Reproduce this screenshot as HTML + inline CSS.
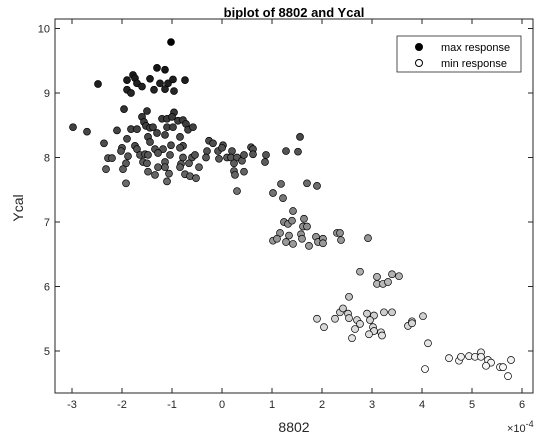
<!DOCTYPE html>
<html><head><meta charset="utf-8"><style>
html,body{margin:0;padding:0;background:#fff;}
svg{display:block;font-family:"Liberation Sans",sans-serif;}
</style></head><body>
<svg id="chart" width="546" height="440" viewBox="0 0 546 440">
<rect x="0" y="0" width="546" height="440" fill="#fff"/>
<g id="points"></g>
<g id="axes"></g>
<text x="294" y="17" text-anchor="middle" font-size="13" font-weight="bold">biplot of 8802 and Ycal</text>
<text x="294" y="432" text-anchor="middle" font-size="14" fill="#262626">8802</text>
<text transform="translate(23,208) rotate(-90)" text-anchor="middle" font-size="14" fill="#262626">Ycal</text>
<text x="507" y="432" font-size="11" fill="#262626">×10<tspan dy="-5" font-size="9">-4</tspan></text>
<g>
<rect x="397" y="36" width="124" height="36" fill="#fff" stroke="#262626" stroke-width="0.8"/>
<circle cx="419" cy="47" r="3.5" fill="#000" stroke="#000"/>
<text x="441" y="51" font-size="11">max response</text>
<circle cx="419" cy="63" r="3.5" fill="#fff" stroke="#000"/>
<text x="441" y="67" font-size="11">min response</text>
</g>
</svg>
<script>
const xVals=[-1.02,-2.48,-1.9,-1.78,-1.74,-1.7,-1.9,-1.82,-1.6,-1.3,-1.14,-1.44,-1.24,-1.36,-1.14,-1.08,-0.98,-0.96,-0.74,-1.96,
-2.98,-2.7,-2.1,-1.82,-1.7,-1.5,-1.6,-1.56,-1.52,-1.44,-1.38,-1.3,-1.48,-1.2,-1.1,-0.96,-1.0,-0.88,-1.1,-0.98,-0.78,-0.72,-0.68,-0.58,-1.14,-0.84,-1.9,-2.36,-1.44,
-1.74,-2.0,-1.7,-1.34,-1.18,-1.02,-0.78,-0.84,-2.02,-1.64,-1.54,-1.48,-1.28,-1.04,-1.88,-2.28,-2.2,-1.58,-1.5,-1.14,-0.78,-0.6,-0.54,-0.82,-0.66,-1.92,-1.98,-2.32,-1.28,-1.14,-0.84,-0.46,-1.48,-1.34,-1.06,-0.74,-0.64,-0.52,-1.92,-1.1,
-0.26,-0.18,-0.3,-0.08,0.02,0.0,-0.32,-0.06,0.1,0.2,0.18,0.3,0.24,0.4,0.44,0.24,0.44,0.26,0.58,0.62,0.62,0.88,0.86,1.28,0.3,1.18,1.02,1.22,
1.52,1.56,1.7,1.9,
1.42,1.24,1.32,1.4,1.64,1.62,1.7,1.16,1.34,1.58,1.02,1.1,1.28,1.42,1.6,1.74,1.88,1.92,2.02,2.02,2.3,2.36,2.38,2.92,
2.76,3.1,3.1,3.22,3.32,3.4,3.54,
2.54,1.9,2.04,2.26,2.36,2.42,2.52,2.54,2.7,2.76,2.66,2.6,2.9,3.04,2.96,3.02,3.04,2.94,3.18,3.2,3.24,3.4,3.72,3.8,3.8,4.02,4.12,4.06,
4.54,4.74,4.78,4.94,5.06,5.18,5.18,5.32,5.38,5.28,5.56,5.62,5.78,5.72];
const yVals=[9.79,9.14,9.2,9.28,9.23,9.15,9.05,9.0,9.1,9.39,9.36,9.22,9.15,9.05,9.06,9.15,9.21,9.03,9.2,8.75,
8.47,8.4,8.42,8.44,8.44,8.72,8.63,8.55,8.49,8.46,8.47,8.38,8.32,8.6,8.6,8.7,8.63,8.57,8.47,8.47,8.58,8.52,8.43,8.47,8.35,8.32,8.29,8.22,8.24,
8.18,8.15,8.13,8.13,8.13,8.19,8.18,8.15,8.1,8.04,8.05,8.04,8.07,8.04,8.02,7.99,7.99,7.93,7.91,7.93,8.0,8.0,8.04,7.9,7.91,7.91,7.82,7.82,7.85,7.85,7.85,7.85,7.78,7.73,7.75,7.74,7.71,7.68,7.6,7.63,
8.26,8.22,8.1,8.1,8.19,8.15,8.0,7.98,8.0,8.1,8.0,8.0,7.91,7.95,8.04,7.79,7.78,7.73,8.16,8.13,8.05,8.04,7.93,8.1,7.48,7.59,7.45,7.37,
8.09,8.32,7.6,7.56,
7.17,7.0,6.97,7.02,7.05,6.93,6.93,6.83,6.79,6.81,6.71,6.74,6.69,6.66,6.74,6.63,6.77,6.69,6.74,6.67,6.83,6.83,6.72,6.75,
6.23,6.15,6.04,6.04,6.07,6.19,6.16,
5.84,5.5,5.37,5.5,5.6,5.66,5.58,5.51,5.48,5.42,5.34,5.2,5.58,5.55,5.48,5.37,5.31,5.26,5.29,5.24,5.6,5.6,5.39,5.46,5.43,5.54,5.12,4.72,
4.89,4.85,4.91,4.92,4.91,4.98,4.91,4.86,4.82,4.77,4.75,4.75,4.86,4.61];
const xTicks=[-3,-2,-1,0,1,2,3,4,5,6];
const yTicks=[5,6,7,8,9,10];
const L=55,R=533,T=19,B=393;
const xs=v=>222+v*50;
const ys=v=>157.5-(v-8)*64.5;
const NS="http://www.w3.org/2000/svg";
const pg=document.getElementById('points');
function gray(y){let g=Math.round((9.8-y)/(9.8-4.6)*255);g=Math.max(0,Math.min(255,g));return `rgb(${g},${g},${g})`;}
for(let i=0;i<xVals.length;i++){
 const c=document.createElementNS(NS,'circle');
 
 
 c.setAttribute('cx',xs(xVals[i]));c.setAttribute('cy',ys(yVals[i]));
 c.setAttribute('r',3.5);c.setAttribute('fill',gray(yVals[i]));
 c.setAttribute('stroke','#000');c.setAttribute('stroke-width','0.7');
 pg.appendChild(c);
}
const ax=document.getElementById('axes');
const fr=document.createElementNS(NS,'rect');


fr.setAttribute('x',L);fr.setAttribute('y',T);fr.setAttribute('width',R-L);fr.setAttribute('height',B-T);
fr.setAttribute('fill','none');fr.setAttribute('stroke','#262626');fr.setAttribute('stroke-width','1');
ax.appendChild(fr);
function line(x1,y1,x2,y2){const l=document.createElementNS(NS,'line');
 
 
 l.setAttribute('x1',x1);l.setAttribute('y1',y1);l.setAttribute('x2',x2);l.setAttribute('y2',y2);
 l.setAttribute('stroke','#262626');ax.appendChild(l);}
function txt(x,y,s,a){const t=document.createElementNS(NS,'text');
 
 
 t.setAttribute('x',x);t.setAttribute('y',y);t.setAttribute('text-anchor',a);
 t.setAttribute('font-size','11');t.setAttribute('fill','#262626');t.textContent=s;ax.appendChild(t);}
xTicks.forEach(v=>{const x=xs(v);line(x,B,x,B-5);line(x,T,x,T+5);txt(x,B+15,String(v),'middle');});
yTicks.forEach(v=>{const y=ys(v);line(L,y,L+5,y);line(R,y,R-5,y);txt(L-5,y+4,String(v),'end');});
</script>
</body></html>
